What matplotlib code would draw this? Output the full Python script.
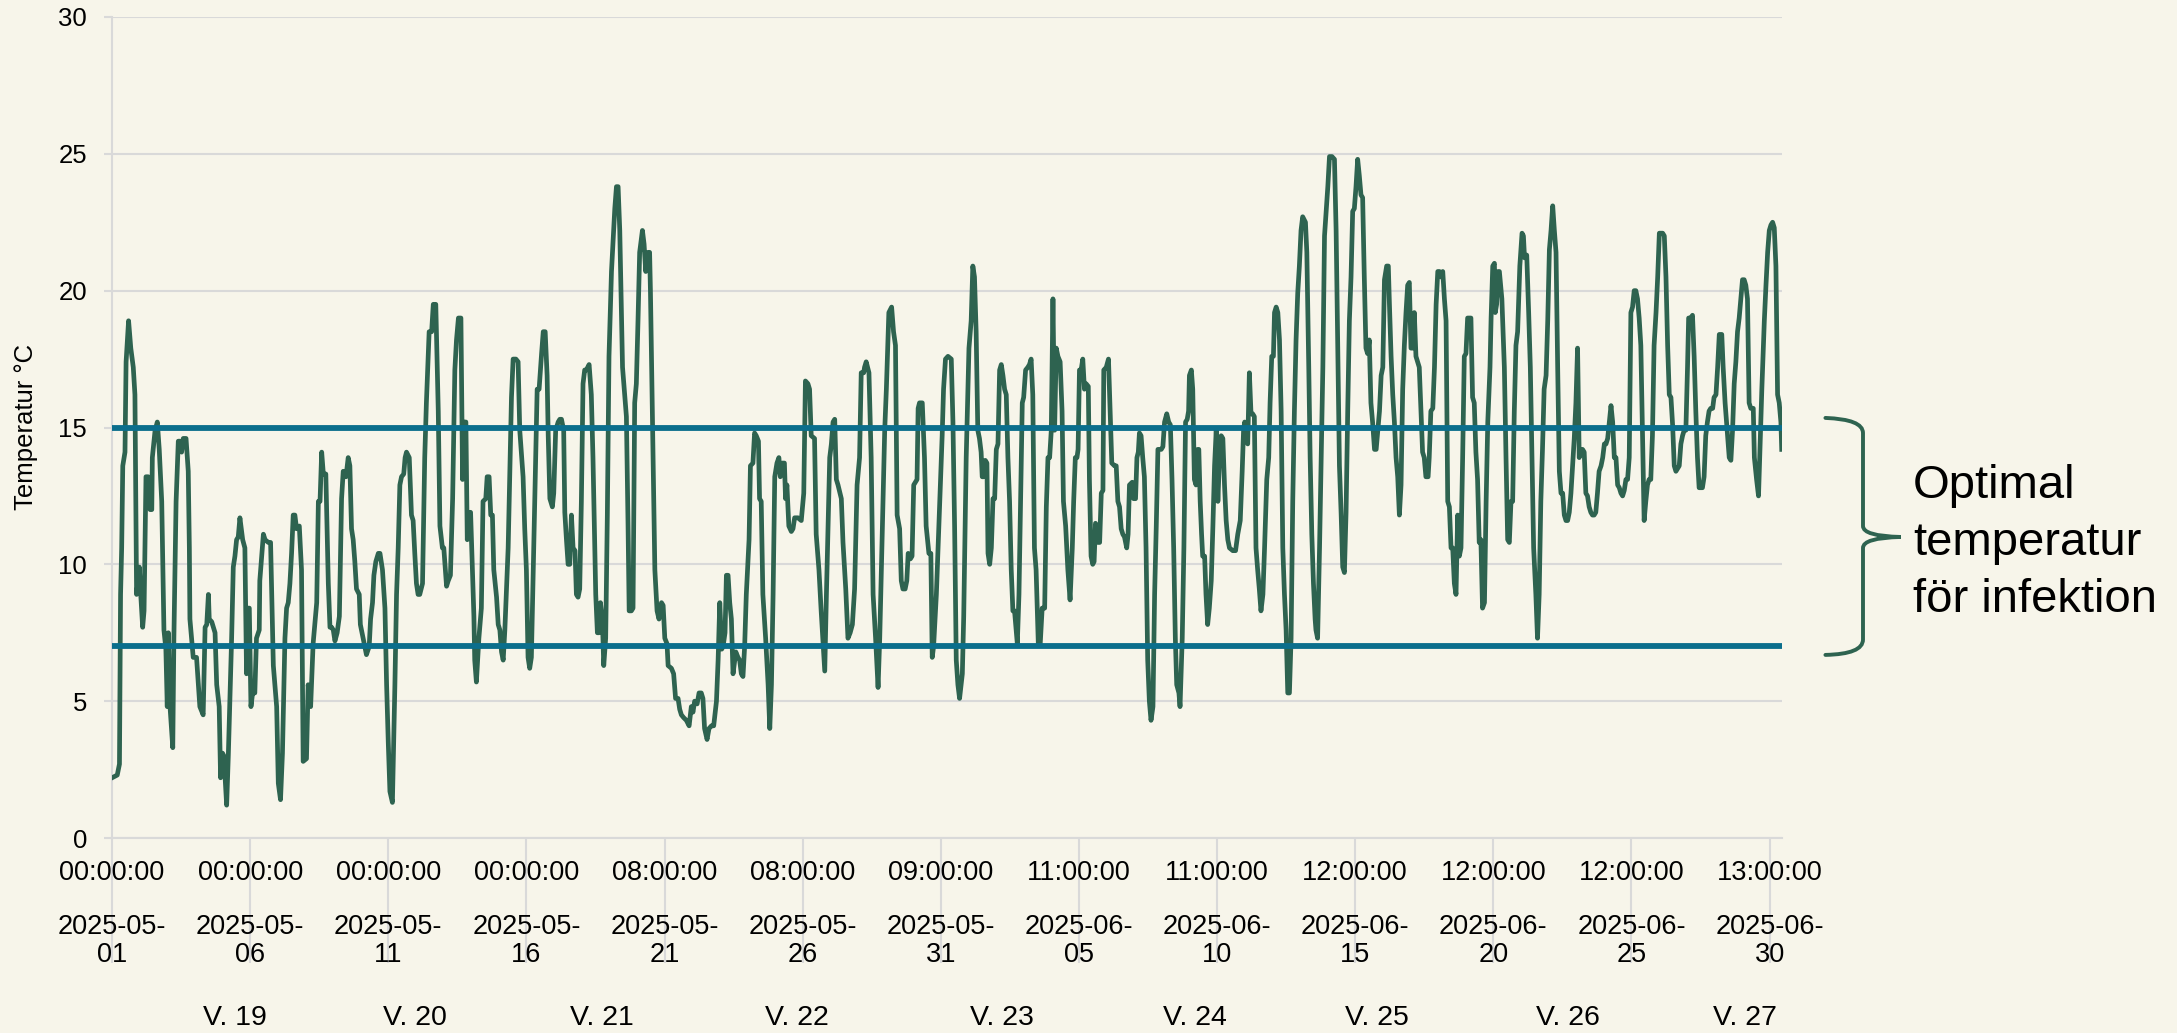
import matplotlib
matplotlib.use("Agg")
from matplotlib import pyplot as plt
from matplotlib.path import Path
from matplotlib.patches import PathPatch
from matplotlib.transforms import blended_transform_factory

plt.rcParams['font.family'] = ['Liberation Sans', 'DejaVu Sans']

# hourly temperature as (days since 2025-05-01 00:00, degrees C)
may_01_10 = [(0.00, 2.2), (0.19, 2.3), (0.27, 2.7), (0.31, 8.9), (0.35, 10.6), (0.39, 13.6), (0.47, 14.1), (0.51, 17.4), (0.60, 18.9), (0.68, 17.9), (0.77, 17.2), (0.83, 16.2), (0.89, 8.9), (0.99, 9.9), (1.04, 8.9), (1.11, 7.7), (1.16, 8.3), (1.23, 13.2), (1.31, 13.2), (1.38, 12.0), (1.44, 12.0), (1.46, 13.9), (1.56, 14.9), (1.64, 15.2), (1.71, 14.2), (1.80, 12.3), (1.88, 7.6), (1.95, 6.9), (2.00, 4.8), (2.04, 7.5), (2.10, 4.8), (2.20, 3.3), (2.24, 7.3), (2.32, 12.3), (2.40, 14.5), (2.46, 14.5), (2.52, 14.1), (2.58, 14.6), (2.68, 14.6), (2.76, 13.4), (2.80, 10.6), (2.82, 8.0), (2.94, 6.6), (3.06, 6.6), (3.18, 4.8), (3.30, 4.5), (3.37, 7.7), (3.43, 7.8), (3.49, 8.9), (3.52, 8.0), (3.61, 7.9), (3.73, 7.5), (3.79, 5.6), (3.88, 4.8), (3.93, 2.2), (4.00, 3.1), (4.05, 3.0), (4.15, 1.2), (4.21, 3.0), (4.33, 7.3), (4.39, 9.9), (4.45, 10.3), (4.51, 10.9), (4.57, 11.0), (4.63, 11.7), (4.73, 10.9), (4.81, 10.6), (4.87, 6.0), (4.93, 8.4), (4.97, 8.4), (5.03, 4.8), (5.09, 5.3), (5.17, 5.3), (5.23, 7.3), (5.33, 7.6), (5.35, 9.4), (5.48, 11.1), (5.54, 10.9), (5.66, 10.8), (5.74, 10.8), (5.84, 6.3), (5.96, 4.8), (6.02, 2.0), (6.10, 1.4), (6.17, 3.1), (6.26, 7.3), (6.32, 8.4), (6.38, 8.6), (6.44, 9.3), (6.50, 10.4), (6.56, 11.8), (6.62, 11.8), (6.68, 11.3), (6.78, 11.4), (6.86, 9.8), (6.92, 2.8), (7.04, 2.9), (7.10, 5.6), (7.19, 4.8), (7.28, 7.1), (7.41, 8.6), (7.47, 12.3), (7.53, 12.3), (7.59, 14.1), (7.65, 13.3), (7.74, 13.3), (7.83, 9.3), (7.89, 7.7), (7.95, 7.7), (8.01, 7.6), (8.07, 7.2), (8.15, 7.5), (8.23, 8.1), (8.31, 12.4), (8.37, 13.4), (8.47, 13.2), (8.55, 13.9), (8.61, 13.6), (8.67, 11.3), (8.73, 10.9), (8.79, 10.1), (8.85, 9.1), (8.95, 8.9), (8.99, 7.8), (9.09, 7.3), (9.21, 6.7), (9.31, 7.0), (9.36, 8.0), (9.43, 8.6), (9.48, 9.6), (9.55, 10.1), (9.64, 10.4), (9.70, 10.4), (9.79, 9.8), (9.88, 8.4), (9.94, 5.6)]
may_11_20 = [(10.00, 3.5), (10.06, 1.7), (10.15, 1.3), (10.24, 5.6), (10.30, 8.9), (10.36, 10.6), (10.42, 12.9), (10.48, 13.2), (10.56, 13.3), (10.61, 13.9), (10.66, 14.1), (10.76, 13.9), (10.84, 11.8), (10.90, 11.6), (10.96, 10.4), (11.02, 9.3), (11.08, 8.9), (11.14, 8.9), (11.24, 9.3), (11.32, 13.9), (11.38, 15.9), (11.48, 18.5), (11.57, 18.5), (11.63, 19.5), (11.72, 19.5), (11.81, 15.6), (11.87, 11.4), (11.96, 10.6), (12.01, 10.6), (12.11, 9.2), (12.17, 9.4), (12.25, 9.6), (12.33, 12.4), (12.41, 17.1), (12.47, 18.2), (12.54, 19.0), (12.63, 19.0), (12.69, 13.1), (12.74, 15.2), (12.81, 15.2), (12.86, 10.9), (12.93, 11.9), (12.98, 11.9), (13.10, 8.1), (13.13, 6.5), (13.19, 5.7), (13.28, 7.3), (13.37, 8.4), (13.43, 12.3), (13.53, 12.4), (13.58, 13.2), (13.65, 13.2), (13.71, 11.8), (13.77, 11.8), (13.82, 9.8), (13.92, 8.8), (13.98, 7.8), (14.04, 7.6), (14.10, 6.8), (14.16, 6.5), (14.22, 7.6), (14.34, 10.6), (14.46, 16.1), (14.52, 17.5), (14.62, 17.5), (14.70, 17.4), (14.76, 14.9), (14.88, 13.2), (14.94, 11.3), (15.00, 9.8), (15.06, 6.6), (15.12, 6.2), (15.18, 6.6), (15.24, 9.4), (15.34, 13.9), (15.39, 16.4), (15.46, 16.4), (15.55, 17.7), (15.61, 18.5), (15.68, 18.5), (15.75, 16.9), (15.79, 14.7), (15.85, 12.4), (15.94, 12.1), (15.99, 12.6), (16.06, 14.9), (16.15, 15.2), (16.21, 15.3), (16.27, 15.3), (16.35, 14.9), (16.39, 11.9), (16.45, 10.9), (16.51, 10.0), (16.57, 10.0), (16.63, 11.8), (16.69, 10.6), (16.76, 10.5), (16.81, 8.9), (16.87, 8.8), (16.93, 9.1), (16.99, 12.3), (17.05, 16.6), (17.11, 17.1), (17.17, 17.1), (17.27, 17.3), (17.35, 16.2), (17.41, 13.9), (17.51, 8.9), (17.57, 7.5), (17.63, 7.5), (17.68, 8.6), (17.75, 8.0), (17.80, 6.3), (17.87, 7.3), (17.93, 11.8), (17.99, 17.6), (18.08, 20.7), (18.20, 23.0), (18.26, 23.8), (18.32, 23.8), (18.38, 22.2), (18.48, 17.2), (18.56, 16.2), (18.62, 15.4), (18.68, 11.4), (18.72, 8.3), (18.80, 8.3), (18.86, 8.4), (18.92, 15.9), (18.98, 16.6), (19.04, 18.9), (19.10, 21.4), (19.20, 22.2), (19.26, 21.7), (19.32, 20.7), (19.40, 21.4), (19.46, 21.4), (19.49, 20.0), (19.56, 15.6), (19.65, 9.8), (19.73, 8.3), (19.80, 8.0), (19.89, 8.6), (19.95, 8.5)]
may_21_30 = [(20.01, 7.3), (20.09, 7.1), (20.13, 6.3), (20.25, 6.2), (20.33, 6.0), (20.40, 5.1), (20.49, 5.1), (20.55, 4.7), (20.61, 4.5), (20.69, 4.4), (20.79, 4.3), (20.89, 4.1), (20.97, 4.8), (21.03, 4.6), (21.09, 5.0), (21.18, 4.9), (21.25, 5.3), (21.33, 5.3), (21.39, 5.1), (21.45, 4.0), (21.54, 3.6), (21.61, 4.0), (21.70, 4.1), (21.78, 4.1), (21.88, 5.0), (21.94, 6.5), (22.00, 8.6), (22.07, 6.9), (22.12, 7.0), (22.19, 7.5), (22.24, 9.6), (22.30, 9.6), (22.36, 8.6), (22.42, 8.0), (22.48, 6.0), (22.58, 6.8), (22.66, 6.6), (22.72, 6.5), (22.78, 6.0), (22.84, 5.9), (22.90, 7.0), (22.96, 8.9), (23.02, 10.1), (23.06, 10.9), (23.11, 13.6), (23.20, 13.7), (23.26, 14.8), (23.32, 14.7), (23.40, 14.5), (23.44, 12.4), (23.50, 12.3), (23.56, 8.9), (23.66, 7.3), (23.75, 5.6), (23.81, 4.0), (23.87, 5.6), (23.93, 8.9), (23.99, 13.2), (24.07, 13.7), (24.14, 13.9), (24.19, 13.2), (24.26, 13.7), (24.34, 13.7), (24.38, 12.4), (24.43, 12.9), (24.50, 11.4), (24.59, 11.2), (24.65, 11.3), (24.71, 11.7), (24.83, 11.7), (24.95, 11.6), (25.04, 12.6), (25.10, 16.7), (25.19, 16.6), (25.25, 16.4), (25.31, 14.7), (25.43, 14.6), (25.49, 11.1), (25.59, 9.8), (25.67, 8.3), (25.80, 6.1), (25.86, 8.9), (25.92, 11.4), (25.98, 13.9), (26.04, 14.4), (26.10, 15.2), (26.16, 15.3), (26.22, 13.1), (26.28, 12.9), (26.40, 12.4), (26.46, 10.8), (26.56, 9.1), (26.64, 7.3), (26.72, 7.5), (26.80, 7.8), (26.88, 9.1), (26.97, 12.9), (27.06, 13.9), (27.12, 17.0), (27.21, 17.0), (27.24, 17.2), (27.30, 17.4), (27.40, 17.0), (27.48, 13.9), (27.55, 8.9), (27.64, 7.3), (27.73, 5.5), (27.79, 7.3), (27.88, 11.1), (27.97, 14.9), (28.03, 16.4), (28.12, 19.2), (28.22, 19.4), (28.29, 18.5), (28.36, 18.0), (28.42, 11.8), (28.51, 11.3), (28.57, 9.4), (28.63, 9.1), (28.71, 9.1), (28.77, 9.4), (28.82, 10.4), (28.90, 10.2), (28.96, 10.3), (29.02, 12.9), (29.08, 13.0), (29.14, 13.1), (29.18, 15.7), (29.23, 15.9), (29.33, 15.9), (29.41, 13.9), (29.47, 11.4), (29.57, 10.4), (29.64, 10.4), (29.69, 6.6), (29.74, 7.0), (29.84, 8.9), (29.93, 11.4)]
may_31_jun_09 = [(30.05, 14.7), (30.10, 16.4), (30.17, 17.5), (30.26, 17.6), (30.38, 17.5), (30.44, 15.2), (30.50, 11.4), (30.56, 6.5), (30.62, 5.6), (30.68, 5.1), (30.78, 6.0), (30.83, 8.1), (30.92, 13.9), (31.02, 17.9), (31.10, 18.9), (31.16, 20.9), (31.22, 20.5), (31.28, 18.5), (31.34, 14.9), (31.40, 14.6), (31.46, 14.1), (31.50, 13.2), (31.56, 13.2), (31.61, 13.8), (31.67, 13.7), (31.71, 10.4), (31.77, 10.0), (31.83, 10.6), (31.89, 12.4), (31.95, 12.4), (32.01, 14.2), (32.07, 14.4), (32.13, 17.1), (32.19, 17.3), (32.25, 16.9), (32.31, 16.4), (32.37, 16.2), (32.43, 13.9), (32.49, 12.3), (32.55, 9.8), (32.61, 8.3), (32.67, 8.3), (32.73, 7.6), (32.77, 7.1), (32.83, 8.9), (32.89, 12.3), (32.95, 15.9), (33.00, 16.1), (33.07, 17.1), (33.15, 17.2), (33.21, 17.3), (33.27, 17.5), (33.33, 16.2), (33.39, 10.6), (33.45, 9.8), (33.53, 7.1), (33.60, 7.1), (33.67, 8.4), (33.76, 8.4), (33.82, 12.1), (33.88, 13.9), (33.94, 13.9), (34.00, 14.9), (34.06, 19.7), (34.12, 14.9), (34.18, 17.9), (34.24, 17.6), (34.32, 17.4), (34.39, 15.6), (34.44, 12.3), (34.52, 11.4), (34.60, 9.8), (34.68, 8.7), (34.76, 10.6), (34.81, 12.3), (34.87, 13.9), (34.93, 13.9), (34.97, 14.2), (35.02, 17.1), (35.08, 17.1), (35.14, 17.5), (35.20, 16.4), (35.26, 16.6), (35.34, 16.5), (35.38, 13.1), (35.44, 10.3), (35.50, 10.0), (35.55, 10.1), (35.60, 11.5), (35.65, 11.4), (35.69, 10.8), (35.75, 10.8), (35.81, 12.6), (35.87, 12.7), (35.90, 17.1), (35.99, 17.2), (36.07, 17.5), (36.13, 15.6), (36.19, 13.7), (36.29, 13.6), (36.35, 13.6), (36.41, 12.3), (36.47, 12.1), (36.53, 11.3), (36.59, 11.1), (36.65, 11.0), (36.69, 10.8), (36.73, 10.6), (36.78, 11.1), (36.83, 12.9), (36.93, 13.0), (36.98, 12.4), (37.05, 12.4), (37.10, 13.9), (37.15, 14.1), (37.19, 14.8), (37.25, 14.7), (37.31, 13.9), (37.37, 13.2), (37.43, 10.6), (37.49, 6.5), (37.55, 5.0), (37.61, 4.3), (37.68, 4.8), (37.74, 8.9), (37.80, 11.4), (37.86, 14.2), (37.92, 14.2), (37.98, 14.2), (38.04, 14.3), (38.10, 15.2), (38.18, 15.5), (38.25, 15.2), (38.31, 15.1), (38.37, 13.1), (38.43, 10.6), (38.49, 7.3), (38.54, 5.6), (38.62, 5.3), (38.66, 4.8), (38.74, 7.3), (38.80, 10.6), (38.86, 15.2), (38.92, 15.3), (38.97, 15.6), (39.00, 16.9), (39.07, 17.1), (39.12, 16.4), (39.18, 13.1), (39.24, 12.9), (39.30, 14.2), (39.34, 14.2), (39.39, 12.3), (39.44, 11.1), (39.48, 10.3), (39.55, 10.3), (39.60, 8.9), (39.66, 7.8), (39.72, 8.4), (39.79, 9.4), (39.85, 11.4), (39.91, 13.6), (39.97, 14.9), (40.03, 12.3)]
jun_10_19 = [(40.09, 13.9), (40.15, 14.7), (40.21, 14.6), (40.27, 12.9), (40.33, 11.6), (40.39, 10.9), (40.45, 10.6), (40.57, 10.5), (40.67, 10.5), (40.75, 11.1), (40.84, 11.6), (40.91, 13.4), (40.96, 14.9), (41.00, 15.2), (41.05, 14.9), (41.11, 14.4), (41.17, 17.0), (41.23, 15.5), (41.29, 15.5), (41.35, 15.4), (41.41, 10.6), (41.47, 9.8), (41.53, 9.1), (41.59, 8.3), (41.66, 8.9), (41.72, 10.6), (41.80, 13.1), (41.87, 13.9), (41.92, 15.9), (41.98, 17.6), (42.04, 17.6), (42.08, 19.2), (42.14, 19.4), (42.20, 19.2), (42.26, 18.2), (42.32, 15.6), (42.38, 10.6), (42.44, 8.9), (42.50, 7.6), (42.56, 5.3), (42.62, 5.3), (42.68, 7.3), (42.74, 12.3), (42.80, 15.6), (42.86, 18.2), (42.92, 19.9), (42.98, 20.9), (43.04, 22.2), (43.10, 22.7), (43.20, 22.5), (43.25, 21.4), (43.32, 17.2), (43.37, 13.9), (43.43, 11.1), (43.49, 9.3), (43.55, 8.0), (43.58, 7.6), (43.64, 7.3), (43.71, 10.6), (43.77, 13.9), (43.83, 17.2), (43.89, 22.0), (43.95, 22.9), (44.01, 23.8), (44.07, 24.9), (44.16, 24.9), (44.25, 24.8), (44.31, 22.2), (44.37, 18.0), (44.43, 13.6), (44.49, 11.9), (44.55, 9.9), (44.61, 9.7), (44.67, 11.9), (44.73, 15.6), (44.79, 18.9), (44.85, 20.5), (44.91, 22.9), (44.97, 23.0), (45.03, 23.8), (45.09, 24.8), (45.15, 24.2), (45.21, 23.5), (45.27, 23.4), (45.33, 20.5), (45.39, 17.9), (45.45, 17.7), (45.51, 18.2), (45.57, 15.9), (45.63, 15.2), (45.70, 14.2), (45.76, 14.2), (45.82, 14.9), (45.88, 15.6), (45.94, 16.9), (46.00, 17.2), (46.06, 20.4), (46.14, 20.9), (46.20, 20.9), (46.24, 19.5), (46.30, 17.6), (46.36, 16.2), (46.42, 15.2), (46.48, 13.9), (46.54, 13.2), (46.60, 11.8), (46.66, 12.9), (46.72, 16.4), (46.78, 18.0), (46.84, 19.2), (46.90, 20.2), (46.96, 20.3), (47.02, 17.9), (47.08, 17.9), (47.14, 19.2), (47.20, 17.6), (47.26, 17.4), (47.32, 17.2), (47.38, 15.6), (47.44, 14.1), (47.50, 13.9), (47.56, 13.2), (47.64, 13.2), (47.68, 13.9), (47.74, 15.6), (47.81, 15.7), (47.87, 17.2), (47.93, 19.5), (47.99, 20.7), (48.05, 20.7), (48.11, 20.5), (48.17, 20.7), (48.23, 19.7), (48.29, 18.9), (48.35, 12.3), (48.41, 12.1), (48.47, 10.6), (48.53, 10.6), (48.59, 9.3), (48.65, 8.9), (48.71, 11.8), (48.77, 10.3), (48.83, 10.6), (48.89, 13.9), (48.95, 17.6), (49.01, 17.7), (49.07, 19.0), (49.13, 19.0), (49.19, 19.0), (49.25, 16.1), (49.31, 15.9), (49.37, 14.1), (49.43, 13.1), (49.49, 10.8), (49.55, 10.9), (49.61, 8.4), (49.68, 8.6), (49.74, 12.3), (49.80, 15.2), (49.88, 17.2), (49.92, 19.0), (49.98, 20.9), (50.04, 21.0), (50.07, 19.2), (50.12, 19.5), (50.17, 20.7)]
jun_20_30 = [(50.22, 20.7), (50.31, 19.7), (50.40, 17.2), (50.46, 13.9), (50.52, 10.9), (50.58, 10.8), (50.64, 12.3), (50.70, 12.3), (50.76, 15.6), (50.82, 18.0), (50.88, 18.5), (50.96, 20.9), (51.04, 22.1), (51.09, 22.0), (51.13, 21.2), (51.21, 21.3), (51.28, 19.2), (51.34, 17.2), (51.40, 13.9), (51.46, 10.6), (51.54, 8.9), (51.60, 7.3), (51.66, 8.9), (51.72, 12.3), (51.78, 14.2), (51.84, 16.4), (51.91, 16.9), (51.97, 18.9), (52.03, 21.5), (52.09, 22.2), (52.15, 23.1), (52.21, 22.2), (52.27, 21.4), (52.33, 17.2), (52.39, 13.4), (52.45, 12.6), (52.51, 12.6), (52.57, 11.8), (52.63, 11.6), (52.69, 11.6), (52.75, 11.9), (52.81, 12.6), (52.87, 13.6), (52.93, 14.6), (52.99, 15.9), (53.05, 17.9), (53.11, 13.9), (53.17, 14.2), (53.23, 14.2), (53.29, 14.1), (53.35, 12.6), (53.41, 12.5), (53.47, 12.1), (53.53, 11.9), (53.59, 11.8), (53.65, 11.8), (53.71, 11.9), (53.77, 12.6), (53.83, 13.4), (53.90, 13.6), (53.96, 13.9), (54.02, 14.4), (54.08, 14.4), (54.14, 14.6), (54.20, 15.2), (54.26, 15.8), (54.32, 15.2), (54.38, 13.9), (54.44, 13.9), (54.50, 12.9), (54.56, 12.8), (54.62, 12.6), (54.68, 12.5), (54.74, 12.7), (54.80, 13.1), (54.86, 13.1), (54.92, 13.9), (54.94, 15.6), (54.98, 19.2), (55.04, 19.4), (55.10, 20.0), (55.16, 20.0), (55.22, 19.7), (55.28, 19.0), (55.34, 18.0), (55.40, 14.7), (55.46, 11.6), (55.52, 12.3), (55.58, 12.9), (55.64, 13.1), (55.70, 13.1), (55.76, 14.7), (55.82, 18.0), (55.89, 19.2), (55.95, 20.5), (56.01, 22.1), (56.07, 22.1), (56.13, 22.1), (56.19, 22.0), (56.25, 20.5), (56.31, 18.0), (56.37, 16.2), (56.43, 16.1), (56.49, 15.1), (56.55, 13.6), (56.61, 13.4), (56.67, 13.5), (56.73, 13.6), (56.79, 14.4), (56.85, 14.7), (56.91, 14.9), (56.97, 14.9), (57.03, 17.2), (57.07, 19.0), (57.15, 19.0), (57.21, 19.1), (57.27, 17.6), (57.33, 15.6), (57.39, 13.9), (57.45, 12.8), (57.51, 12.8), (57.57, 12.8), (57.63, 13.2), (57.69, 14.7), (57.75, 15.2), (57.81, 15.6), (57.87, 15.7), (57.94, 15.7), (57.99, 16.1), (58.06, 16.2), (58.12, 17.2), (58.18, 18.4), (58.27, 18.4), (58.32, 17.2), (58.39, 15.9), (58.48, 14.7), (58.54, 13.9), (58.60, 13.8), (58.66, 14.9), (58.72, 16.6), (58.78, 17.4), (58.84, 18.5), (58.90, 19.0), (58.96, 19.7), (59.02, 20.4), (59.08, 20.4), (59.14, 20.2), (59.20, 19.7), (59.26, 15.9), (59.32, 15.7), (59.41, 15.7), (59.45, 13.9), (59.53, 13.1), (59.60, 12.5), (59.65, 14.1), (59.72, 16.4), (59.81, 18.9), (59.87, 20.2), (59.93, 21.4), (59.99, 22.2), (60.05, 22.4), (60.11, 22.5), (60.17, 22.3), (60.23, 20.9), (60.29, 16.2), (60.35, 15.9), (60.41, 15.2), (60.44, 14.2)]

# optimal range for infection
temp_low = 7
temp_high = 15

# category axis labels, one every 5 days
tick_pos = [0, 5, 10, 15, 20, 25, 30, 35, 40, 45, 50, 55, 60]
tick_times = ["00:00:00", "00:00:00", "00:00:00", "00:00:00", "08:00:00", "08:00:00", "09:00:00",
              "11:00:00", "11:00:00", "12:00:00", "12:00:00", "12:00:00", "13:00:00"]
tick_dates = ["2025-05-01", "2025-05-06", "2025-05-11", "2025-05-16", "2025-05-21", "2025-05-26", "2025-05-31",
              "2025-06-05", "2025-06-10", "2025-06-15", "2025-06-20", "2025-06-25", "2025-06-30"]

week_labels = ["V. 19", "V. 20", "V. 21", "V. 22", "V. 23", "V. 24", "V. 25", "V. 26", "V. 27"]
week_pos = [4.45, 10.96, 17.73, 24.8, 32.2, 39.2, 45.8, 52.7, 59.1]

BG = '#F7F5EA'
GREEN = '#2E6350'
TEAL = '#0B6E8C'
GRID = '#D9D9D9'

readings = may_01_10 + may_11_20 + may_21_30 + may_31_jun_09 + jun_10_19 + jun_20_30
days = [r[0] for r in readings]
temps = [r[1] for r in readings]

fig = plt.figure(figsize=(21.77, 10.33), dpi=100, facecolor=BG)
ax = fig.add_axes([112 / 2177, 1 - 838 / 1033, 1670 / 2177, 821 / 1033], facecolor=BG)

ax.plot(days, temps, color=GREEN, lw=3.4, solid_joinstyle='round', zorder=3)
ax.axhline(temp_high, color=TEAL, lw=4.2, zorder=4)
ax.axhline(temp_low, color=TEAL, lw=4.2, zorder=4)

ax.set_xlim(0, 60.45)
ax.set_ylim(0, 30)
ax.set_yticks(range(0, 31, 5))
ax.set_xticks(tick_pos)
ax.set_xticklabels([t + "\n\n" + d[:8] + "\n" + d[8:] for t, d in zip(tick_times, tick_dates)],
                   linespacing=1.07)

ax.set_axisbelow(True)
ax.yaxis.grid(True, color=GRID, lw=1.5)
for side in ['top', 'right']:
    ax.spines[side].set_visible(False)
for side in ['left', 'bottom']:
    ax.spines[side].set_color(GRID)
    ax.spines[side].set_linewidth(1.5)

ax.tick_params(axis='x', length=90, width=1.5, color=GRID, pad=-74.5, labelsize=19.5, labelcolor='black')
ax.tick_params(axis='y', length=6, width=1.5, color=GRID, pad=12, labelsize=18.5, labelcolor='black')

fig.text(26 / 2177, 1 - 427 / 1033, "Temperatur °C", rotation=90, ha='center', va='center', fontsize=18.5)

# week numbers under the date labels
week_tr = blended_transform_factory(ax.transData, fig.transFigure)
for lab, x in zip(week_labels, week_pos):
    ax.text(x, 0.0145, lab, transform=week_tr, ha='center', va='center', fontsize=20.5, clip_on=False)

# curly brace marking the optimal band
brace_tr = blended_transform_factory(ax.transAxes, ax.transData)
mid = (temp_low + temp_high) / 2
verts = [(1.026, temp_high + 0.35), (1.0485, temp_high + 0.3), (1.0485, temp_high - 0.2),
         (1.0485, mid + 0.4), (1.0485, mid + 0.03), (1.071, mid),
         (1.0485, mid - 0.03), (1.0485, mid - 0.4),
         (1.0485, temp_low + 0.25), (1.0485, temp_low - 0.28), (1.026, temp_low - 0.31)]
codes = [Path.MOVETO, Path.CURVE3, Path.CURVE3, Path.LINETO, Path.CURVE3, Path.CURVE3,
         Path.CURVE3, Path.CURVE3, Path.LINETO, Path.CURVE3, Path.CURVE3]
ax.add_patch(PathPatch(Path(verts, codes), transform=brace_tr, fill=False, edgecolor=GREEN,
                       lw=2.8, clip_on=False, capstyle='round'))

fig.text(1913 / 2177, 1 - 543 / 1033, "Optimal\ntemperatur\nför infektion", ha='left', va='center',
         fontsize=34, linespacing=1.38)

fig.savefig("out.png", dpi=100, facecolor=BG)
